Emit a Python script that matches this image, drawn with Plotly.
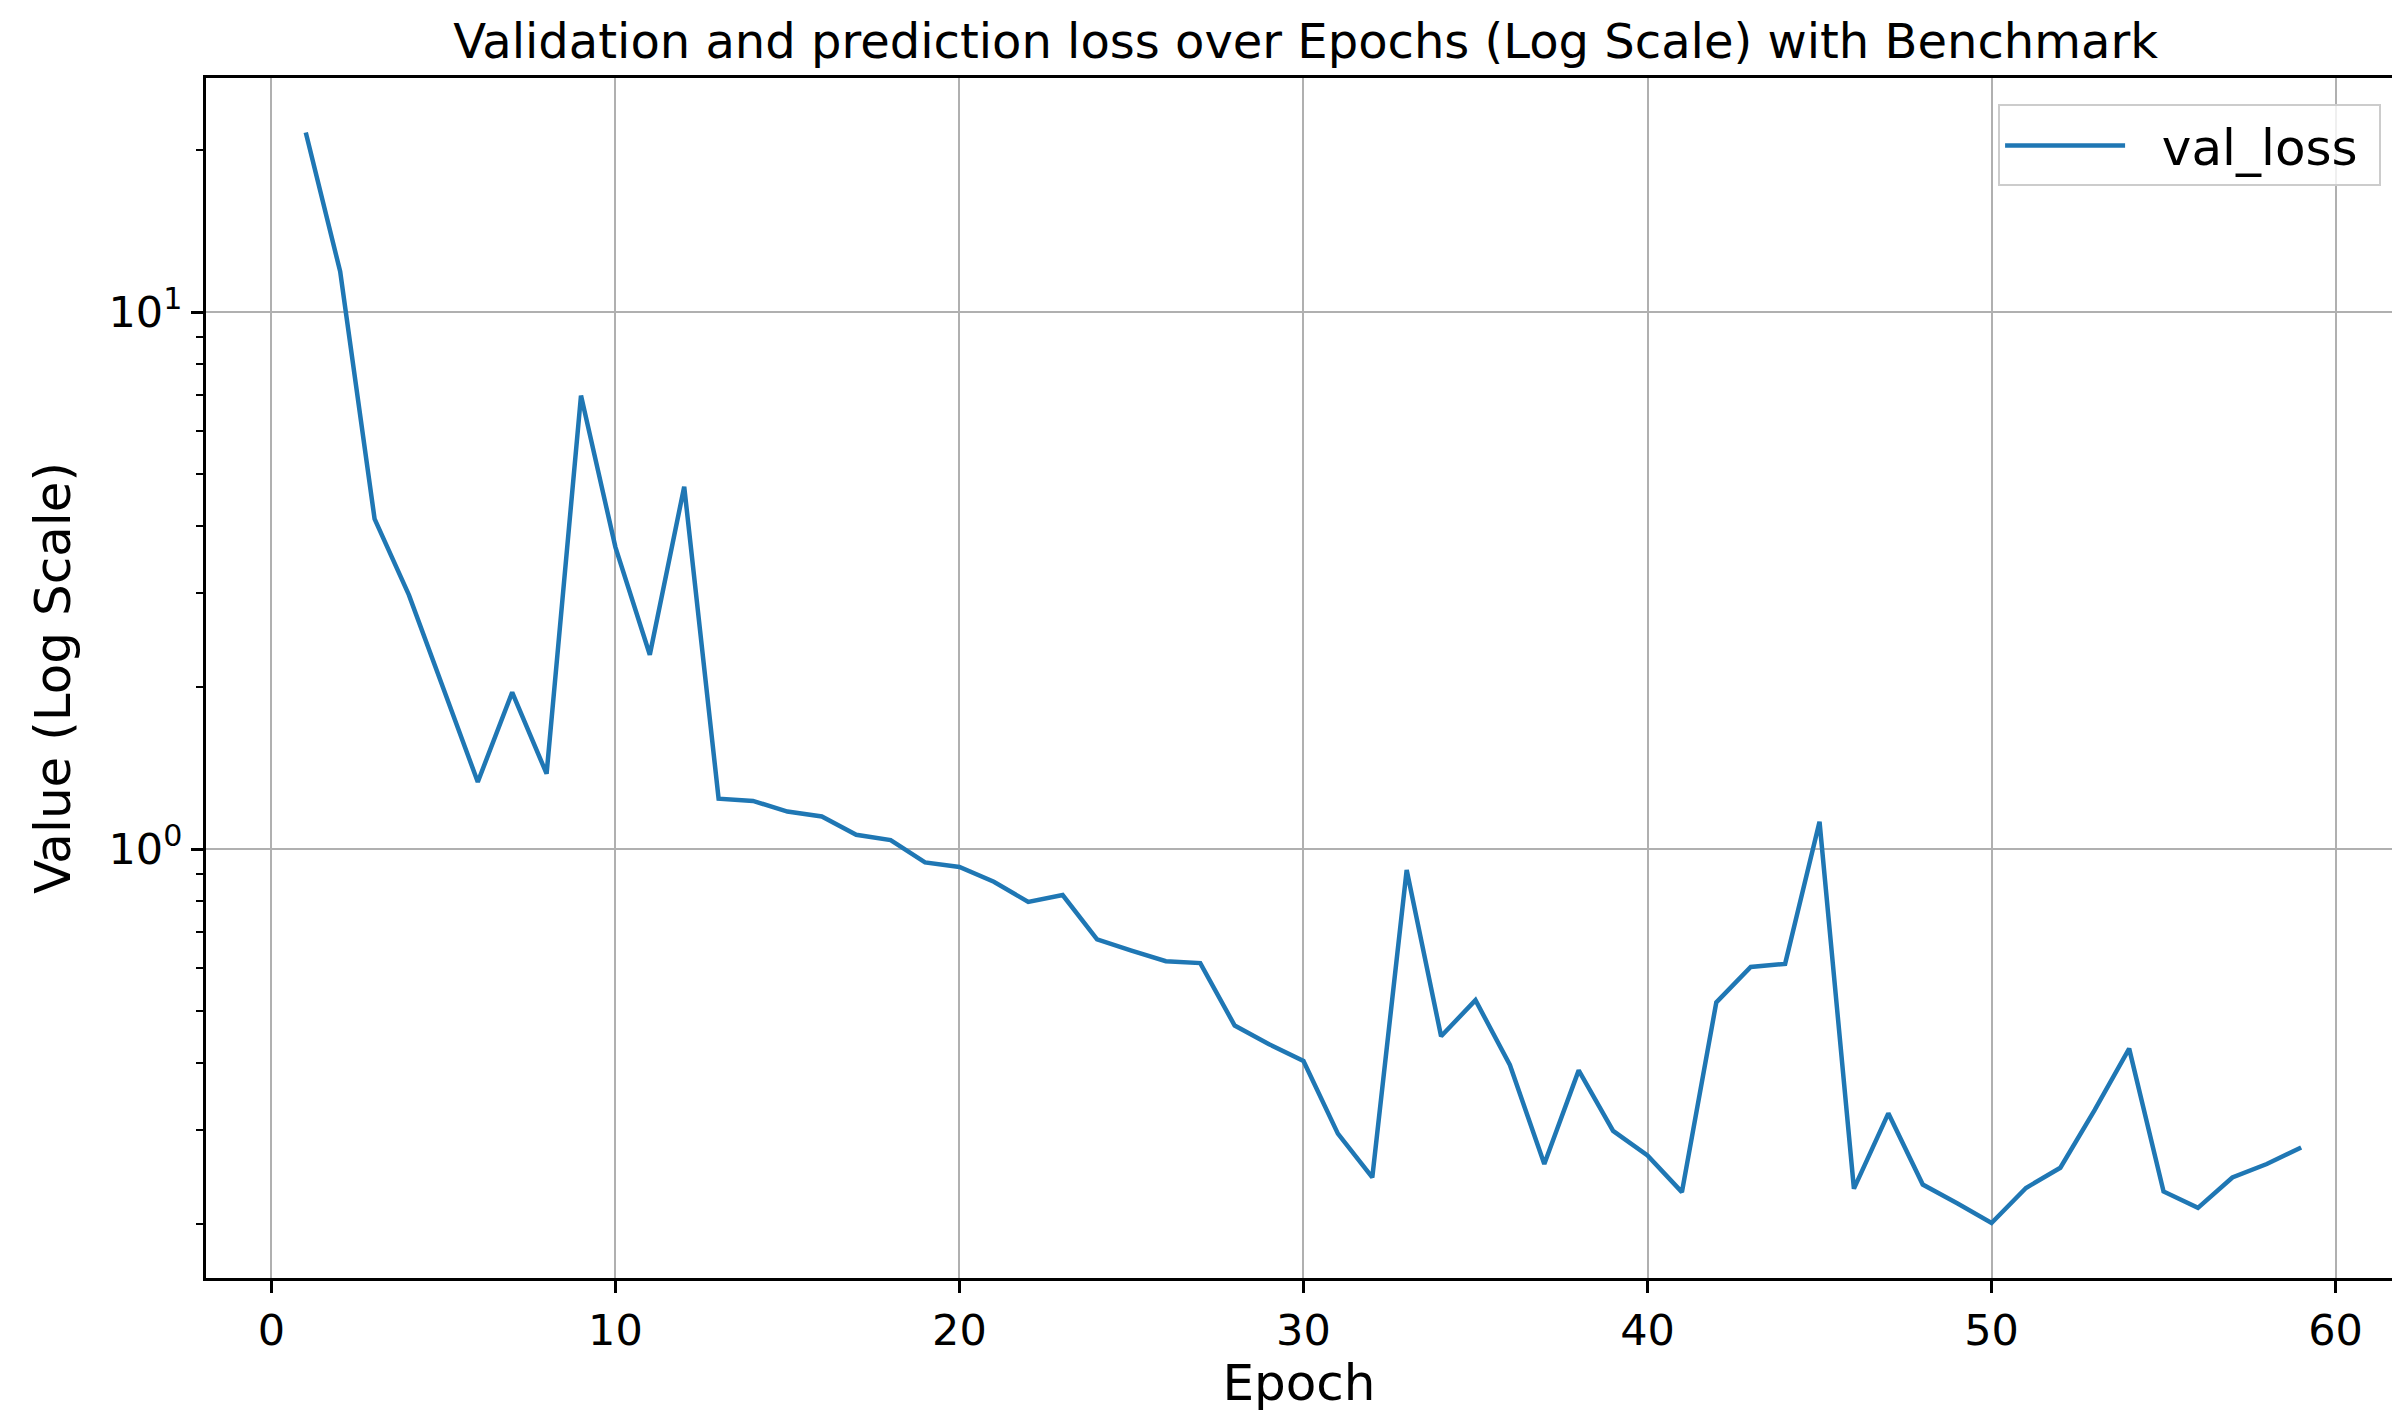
import plotly.graph_objects as go

# Validation loss per epoch
epochs = list(range(1, 60))
val_loss = [
    21.6, 11.9, 4.12, 2.97, 1.99, 1.333, 1.958, 1.381, 6.99, 3.65,
    2.30, 4.73, 1.241, 1.229, 1.174, 1.150, 1.063, 1.039, 0.944, 0.926,
    0.869, 0.797, 0.821, 0.679, 0.647, 0.618, 0.613, 0.469, 0.433, 0.403,
    0.295, 0.2445, 0.914, 0.448, 0.523, 0.396, 0.259, 0.387, 0.2986, 0.2688,
    0.2296, 0.518, 0.603, 0.611, 1.124, 0.233, 0.3219, 0.2372, 0.2188, 0.2011,
    0.2337, 0.2549, 0.3267, 0.4248, 0.2302, 0.2146, 0.2445, 0.259, 0.278,
]

x_ticks = [0, 10, 20, 30, 40, 50, 60]
y_ticks = [1, 10]
y_tick_text = ["10<sup>0</sup>", "10<sup>1</sup>"]
y_minor = [0.2, 0.3, 0.4, 0.5, 0.6, 0.7, 0.8, 0.9, 2, 3, 4, 5, 6, 7, 8, 9, 20]

FONT = "DejaVu Sans"
GRID = "#b0b0b0"
NBSP = "\u00a0"

fig = go.Figure()
fig.add_trace(go.Scatter(
    x=epochs, y=val_loss, mode="lines",
    name=NBSP * 2 + "val_loss" + NBSP,
    line=dict(color="#1f77b4", width=4.5),
))

fig.update_layout(
    width=2392, height=1412,
    margin=dict(l=206, r=0, t=78, b=134),
    paper_bgcolor="white", plot_bgcolor="white",
    font=dict(family=FONT, color="black", size=43),
    title=dict(
        text="Validation and prediction loss over Epochs (Log Scale) with Benchmark",
        x=0.503, xref="paper", xanchor="center",
        y=0.971, yref="container", yanchor="middle",
        font=dict(size=48, family=FONT, color="black"),
    ),
    showlegend=True,
    legend=dict(
        x=0.8198, y=0.978, xanchor="left", yanchor="top",
        bgcolor="rgba(255,255,255,0.8)", bordercolor="#cccccc", borderwidth=2,
        font=dict(size=50, family=FONT, color="black"),
        itemwidth=120,
    ),
)

fig.update_xaxes(
    range=[-1.9, 61.64],
    tickmode="array", tickvals=x_ticks,
    ticks="outside", ticklen=12, tickwidth=3, tickcolor="black",
    showline=True, linecolor="black", linewidth=3, mirror=True,
    showgrid=True, gridcolor=GRID, gridwidth=2,
    zeroline=False,
    tickfont=dict(size=43, family=FONT),
    title=dict(text="Epoch", font=dict(size=50, family=FONT), standoff=14),
)

fig.update_yaxes(
    type="log", range=[-0.799, 1.436],
    tickmode="array", tickvals=y_ticks, ticktext=y_tick_text,
    ticks="outside", ticklen=12, tickwidth=3, tickcolor="black",
    showline=True, linecolor="black", linewidth=3, mirror=False,
    showgrid=True, gridcolor=GRID, gridwidth=2,
    zeroline=False,
    tickfont=dict(size=43, family=FONT),
    minor=dict(tickmode="array", tickvals=y_minor, ticks="outside",
               ticklen=7, tickwidth=2, tickcolor="black", showgrid=False),
    title=dict(text="Value (Log Scale)", font=dict(size=50, family=FONT), standoff=23),
)

fig.write_html("out.html")
